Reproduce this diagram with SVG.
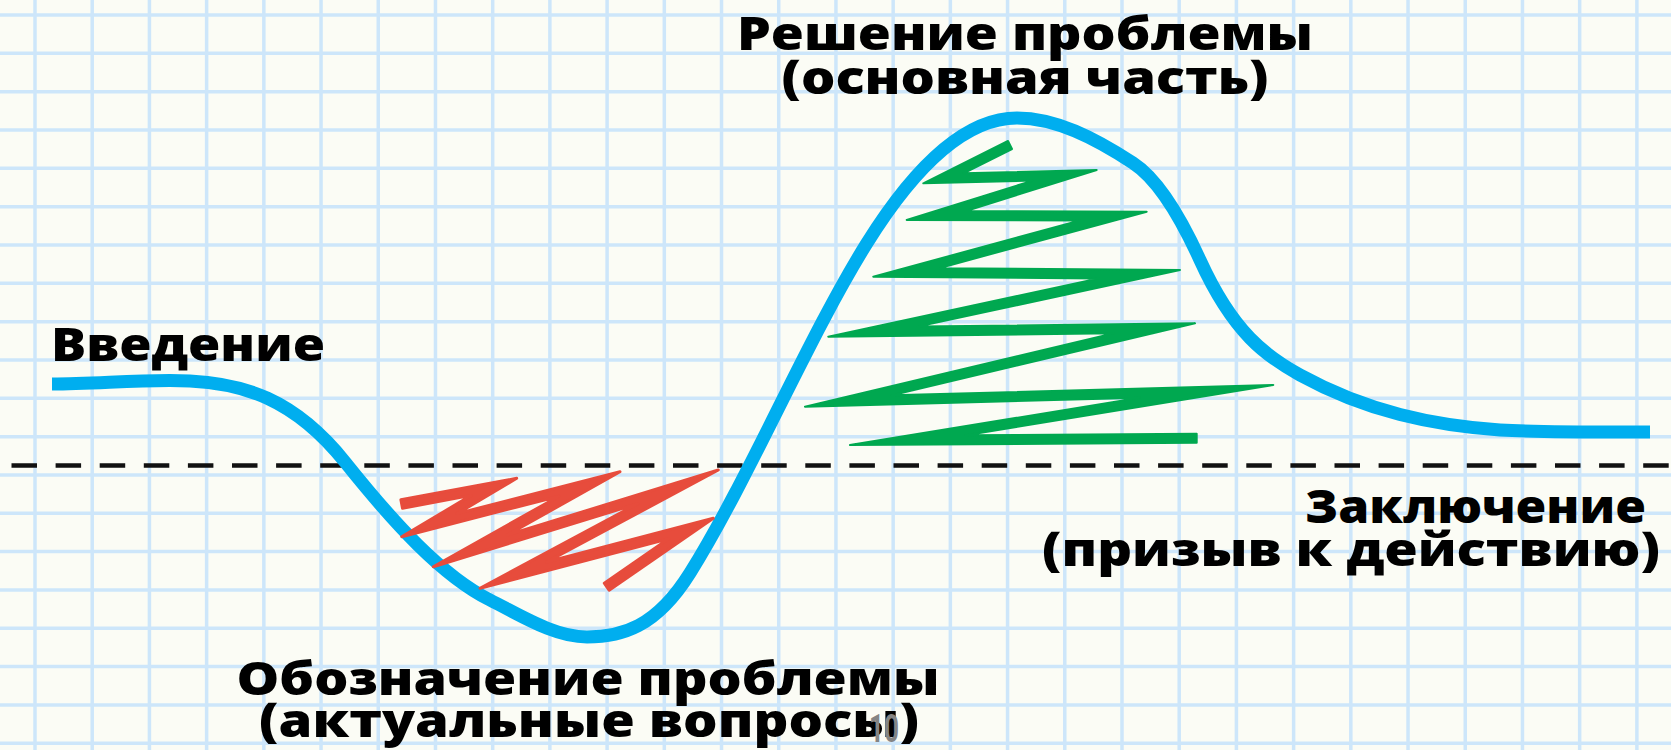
<svg xmlns="http://www.w3.org/2000/svg" width="1671" height="750" viewBox="0 0 1671 750">
  <style>
    .grid { stroke: #cde6fa; stroke-width: 3.5; fill: none; }
    .lbl { font-family: "Open Sans", "Noto Sans", "DejaVu Sans", sans-serif; font-weight: 800; font-size: 46px; fill: #000; }
    .curve { fill: none; stroke: #00aeef; stroke-width: 13; stroke-linecap: butt; stroke-linejoin: round; }
    .dash { stroke: #111; stroke-width: 4.5; stroke-dasharray: 25.5 18.6; }
    .red { fill: #e74c3c; stroke: #e74c3c; stroke-width: 3; stroke-linejoin: round; }
    .green { fill: #00a850; stroke: #00a850; stroke-width: 2; stroke-linejoin: round; }
  </style>
  <rect width="1671" height="750" fill="#fbfcf5"/>
  <g id="grid">
    <path class="grid" d="M35,0V750M92.21,0V750M149.42,0V750M206.63,0V750M263.84,0V750M321.05,0V750M378.26,0V750M435.47,0V750M492.68,0V750M549.89,0V750M607.1,0V750M664.31,0V750M721.52,0V750M778.73,0V750M835.94,0V750M893.15,0V750M950.36,0V750M1007.57,0V750M1064.78,0V750M1121.99,0V750M1179.2,0V750M1236.41,0V750M1293.62,0V750M1350.83,0V750M1408.04,0V750M1465.25,0V750M1522.46,0V750M1579.67,0V750M1636.88,0V750"/>
    <path class="grid" d="M0,15H1671M0,53.33H1671M0,91.66H1671M0,129.99H1671M0,168.32H1671M0,206.65H1671M0,244.98H1671M0,283.31H1671M0,321.64H1671M0,359.97H1671M0,398.3H1671M0,436.63H1671M0,474.96H1671M0,513.29H1671M0,551.62H1671M0,589.95H1671M0,628.28H1671M0,666.61H1671M0,704.94H1671M0,743.27H1671"/>
  </g>
  <g id="baseline">
    <line class="dash" x1="11.5" y1="465.5" x2="1671" y2="465.5"/>
  </g>
  <g id="connectors">
    <path id="story-curve" class="curve" d="M52,384 C98,384 144,379 190,381 C241.7,383.6 293.3,397.4 345,462 C393.3,522.4 441.7,575.8 490,600 C522.3,616.2 554.7,637 587,637 C621.3,637 655.7,627.9 690,573 C749,478.6 808,337.4 867,243 C917,163 967,118 1017,118 C1055.7,118 1094.3,137.8 1133,163 C1155.3,177.5 1177.7,211 1200,260 C1233.3,333.3 1266.7,356.7 1300,375 C1366.7,411.7 1433.3,425.3 1500,430 C1550,432.5 1600,432 1650,432"/>
  </g>
  <g id="problem-zigzag">
    <polygon class="red" points="400.9,499.8 516.7,478.3 457.2,513.6 620,471.7 507.1,535.1 718.3,470 546.7,562 713.3,518.3 609.1,590.2 604.3,583.2 668.6,538.8 480,588.3 637.7,503.7 433.3,566.7 558.9,496.2 401.7,536.7 471.3,495.4 402.5,508.2"/>
  </g>
  <g id="solution-zigzag">
    <polygon class="green" points="1008,141 923.3,183.3 1032.7,180.6 906.7,220 1079.9,220.5 873.3,276.7 1098.5,278.4 828.3,336.7 1114,333.3 805,406.7 1139.8,397.7 850,445 1196.7,442.8 1196.7,433.8 965.8,435.3 1273.3,385 891.8,395.3 1195,323.3 917.8,326.6 1180,270 938.9,268.2 1146.7,211.7 965.2,211.2 1096.7,170 963.5,173.3 1012,149"/>
  </g>
  <g id="intro">
    <text class="lbl" x="51" y="361" textLength="274" lengthAdjust="spacingAndGlyphs">Введение</text>
  </g>
  <g id="solution">
    <text class="lbl" x="1025" y="50" text-anchor="middle" textLength="576" lengthAdjust="spacingAndGlyphs">Решение проблемы</text>
    <text class="lbl" x="1025" y="94" text-anchor="middle" textLength="487" lengthAdjust="spacingAndGlyphs">(основная часть)</text>
  </g>
  <g id="conclusion">
    <text class="lbl" x="1646" y="523" text-anchor="end" textLength="341" lengthAdjust="spacingAndGlyphs">Заключение</text>
    <text class="lbl" x="1660" y="566" text-anchor="end" textLength="618" lengthAdjust="spacingAndGlyphs">(призыв к действию)</text>
  </g>
  <g id="problem">
    <text class="lbl" x="588" y="695" text-anchor="middle" textLength="703" lengthAdjust="spacingAndGlyphs">Обозначение проблемы</text>
    <text class="lbl" x="589" y="737" text-anchor="middle" textLength="660" lengthAdjust="spacingAndGlyphs">(актуальные вопросы)</text>
  </g>
  <g id="page-number">
    <text x="869" y="742" font-family="Roboto, 'Liberation Sans', sans-serif" font-weight="700" font-size="38" fill="#858585" textLength="30" lengthAdjust="spacingAndGlyphs">10</text>
  </g>
</svg>
